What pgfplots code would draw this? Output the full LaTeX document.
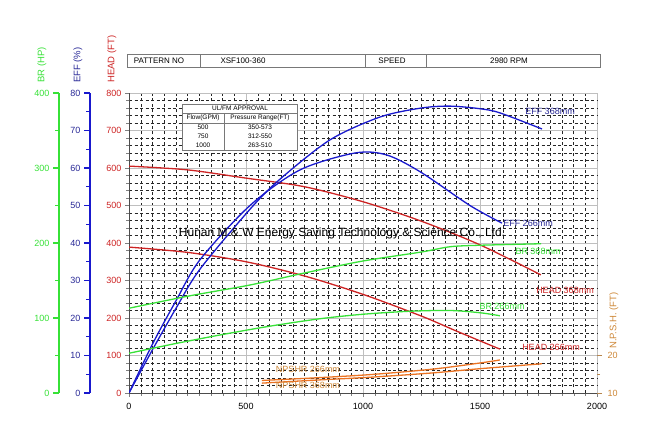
\documentclass[border=0pt]{standalone}
\usepackage{pgfplots}
\pgfplotsset{compat=1.18}
\usepackage{fontspec}
\setmainfont{Liberation Sans}
\definecolor{hred}{RGB}{205,35,35}
\definecolor{eblue}{RGB}{25,25,205}
\definecolor{etext}{RGB}{40,40,150}
\definecolor{bgreen}{RGB}{55,225,55}
\definecolor{norange}{RGB}{235,115,35}
\definecolor{ntext}{RGB}{205,135,55}
\definecolor{tblgray}{RGB}{120,120,120}

\pgfplotsset{
  base/.style={scale only axis, width=468pt, height=300pt,
    at={(129pt,48pt)}, anchor=south west, xmin=0, xmax=2000},
  sideaxis/.style={scale only axis, width=1pt, height=300pt, anchor=south west,
    xmin=0, xmax=1, axis x line=none, xtick=\empty, axis y line*=left,
    tick align=outside, major tick length=6pt, minor tick length=4pt,
    minor y tick num=1,
    tick label style={font=\fontsize{9}{11}\selectfont},
    /pgf/number format/assume math mode=true},
  curve/.style={line width=1.3pt, smooth, tension=0.5},
}

\begin{document}
\begin{tikzpicture}[x=1pt,y=1pt]
\useasboundingbox (0,0) rectangle (650,441);

% main axis: grid, flow and head
\begin{axis}[base, ymin=0, ymax=800,
  axis x line*=bottom, axis y line*=left, axis line style={-, black!70},
  xtick={0,500,...,2000}, minor x tick num=9,
  ytick={0,100,...,800}, minor y tick num=4,
  tick align=outside, major tick length=4pt, minor tick length=3pt,
  grid=both,
  major grid style={gray!50, line width=0.7pt},
  minor grid style={black!85, line width=0.3pt, dash pattern=on 3pt off 2.5pt},
  tick label style={font=\fontsize{9}{11}\selectfont},
  xticklabel style={yshift=-3pt},
  yticklabel style={text=hred},
  /pgf/number format/assume math mode=true,
  /pgf/number format/1000 sep={}]
\addplot[curve, hred] coordinates {(0,605) (250,595) (500,573) (750,550) (1000,510) (1250,458) (1500,395) (1760,315)};
\addplot[curve, hred] coordinates {(0,389) (250,375) (500,350) (750,312) (1000,263) (1250,205) (1400,165) (1585,117)};
\end{axis}

% efficiency
\begin{axis}[base, ymin=0, ymax=80, hide axis]
\addplot[curve, eblue] coordinates {(0,0) (100,11.5) (200,22.5) (303,33) (517,49) (645,57) (859,67.5) (1073,73.6) (1250,76) (1372,76.5) (1500,75.8) (1585,74.7) (1765,70.4)};
\addplot[curve, eblue] coordinates {(0,0) (100,13) (200,24.5) (303,35.5) (517,50) (731,59.5) (966,64) (1100,63.5) (1244,59) (1457,50) (1594,45.3)};
\end{axis}

% brake horsepower
\begin{axis}[base, ymin=0, ymax=400, hide axis]
\addplot[curve, bgreen] coordinates {(0,113) (250,129) (517,144) (750,160) (1000,176) (1250,188) (1372,195) (1500,197) (1761,199)};
\addplot[curve, bgreen] coordinates {(0,53) (200,66) (400,78) (600,89) (816,99) (1000,105) (1200,109) (1372,110) (1500,107) (1585,103)};
\end{axis}

% NPSHR
\begin{axis}[base, ymin=10, ymax=89, axis x line=none, xtick=\empty,
  axis y line*=right, y axis line style={draw=none},
  ytick={10,20}, minor ytick={15}, tick align=outside,
  major tick length=5pt, minor tick length=3pt,
  tick style={ntext!70!gray, line width=0.6pt},
  tick label style={font=\fontsize{9}{11}\selectfont, text=ntext, xshift=2pt},
  /pgf/number format/assume math mode=true]
\addplot[curve, norange] coordinates {(568,13.3) (800,14.0) (1043,14.9) (1300,16.3) (1500,17.9) (1585,18.7)};
\addplot[curve, norange] coordinates {(568,12.6) (800,13.4) (1043,14.2) (1300,15.3) (1500,16.4) (1765,17.7)};
\end{axis}

% offset scales
\begin{axis}[sideaxis, at={(90pt,48pt)}, ymin=0, ymax=80, ytick={0,10,...,80},
  axis line style={eblue, line width=1.4pt, -},
  tick style={eblue, line width=1.2pt},
  yticklabel style={text=etext}]
\end{axis}
\begin{axis}[sideaxis, at={(59pt,48pt)}, ymin=0, ymax=400, ytick={0,100,...,400},
  axis line style={bgreen, line width=1.4pt, -},
  tick style={bgreen, line width=1.2pt},
  yticklabel style={text=bgreen}]
\end{axis}

% axis titles
\begin{scope}[font=\fontsize{9.5}{11}\selectfont]
\node[rotate=90, anchor=west, text=bgreen, inner sep=0] at (42,358) {BR (HP)};
\node[rotate=90, anchor=west, text=etext, inner sep=0] at (78,358) {EFF (\%)};
\node[rotate=90, anchor=west, text=hred, inner sep=0] at (112,358) {HEAD (FT)};
\node[rotate=90, anchor=west, text=ntext, inner sep=0] at (614,92) {N.P.S.H. (FT)};
\end{scope}

% header table
\begin{scope}[font=\fontsize{8}{10}\selectfont]
\draw[tblgray, line width=0.5pt] (127,374) rectangle (600,387);
\draw[tblgray, line width=0.5pt] (200,374) -- (200,387) (365,374) -- (365,387) (426,374) -- (426,387);
\node at (159,380.5) {PATTERN NO};
\node at (243,380.5) {XSF100-360};
\node at (392,380.5) {SPEED};
\node at (509,380.5) {2980 RPM};
\end{scope}

% UL/FM approval table
\begin{scope}[font=\fontsize{6.5}{8}\selectfont]
\fill[white] (182,291) rectangle (297,337);
\draw[tblgray, line width=0.5pt] (182,291) rectangle (297,337);
\draw[tblgray, line width=0.5pt] (182,328) -- (297,328) (182,318) -- (297,318) (224,291) -- (224,328);
\node at (240,332.5) {UL/FM APPROVAL};
\node at (203,323) {Flow(GPM)};
\node at (260,323) {Pressure Range(FT)};
\node at (203,313.5) {500};
\node at (260,313.5) {350-573};
\node at (203,304.5) {750};
\node at (260,304.5) {312-550};
\node at (203,295.5) {1000};
\node at (260,295.5) {263-510};
\end{scope}

% curve labels
\begin{scope}[font=\fontsize{9}{11}\selectfont]
\node[text=etext] at (550,330) {EFF 368mm};
\node[text=etext] at (528,218) {EFF 266mm};
\node[text=bgreen] at (538,190) {BR 368mm};
\node[text=hred] at (565,151) {HEAD 368mm};
\node[text=bgreen] at (502,135) {BR 266mm};
\node[text=hred] at (551,94) {HEAD 266mm};
\node[text=ntext] at (308,72) {NPSHR 266mm};
\node[text=ntext] at (308,56) {NPSHR 368mm};
\end{scope}

\node[font=\fontsize{12}{14}\selectfont] at (342,208) {Hunan M \& W Energy Saving Technology \& Science Co., Ltd.};
\end{tikzpicture}
\end{document}
